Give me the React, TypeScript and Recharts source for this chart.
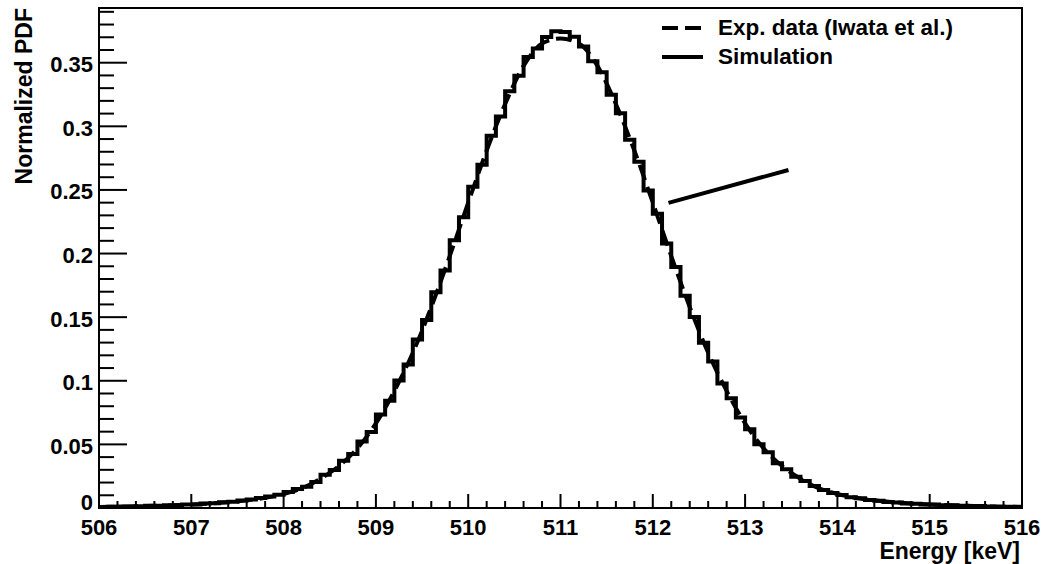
import { ComposedChart, Line, XAxis, YAxis, Legend, ReferenceArea, ReferenceLine } from 'recharts'

const FONT = '"Liberation Sans", Arial, Helvetica, sans-serif'

// simulated spectrum, 0.1 keV bins starting at 506 keV
const SIM_BIN_START = 506
const SIM_BIN_WIDTH = 0.1
const SIM_PDF = [
  0.0008, 0.001, 0.0012, 0.0011, 0.0013, 0.0017, 0.0016, 0.0021, 0.0022, 0.0027,
  0.0028, 0.0035, 0.0037, 0.0045, 0.005, 0.0058, 0.0066, 0.0078, 0.009, 0.0105,
  0.0125, 0.015, 0.0168, 0.0205, 0.0262, 0.0298, 0.0372, 0.0425, 0.0522, 0.0598,
  0.0735, 0.0843, 0.1002, 0.1128, 0.1325, 0.1478, 0.1695, 0.1866, 0.2105, 0.2285,
  0.2525, 0.2698, 0.2925, 0.3078, 0.3275, 0.3398, 0.3545, 0.3612, 0.3702, 0.3748,
  0.3742, 0.3705, 0.3628, 0.3512, 0.3425, 0.3248, 0.3102, 0.2895, 0.2722, 0.2495,
  0.2312, 0.2078, 0.1895, 0.1668, 0.1502, 0.1298, 0.1152, 0.0978, 0.0862, 0.0712,
  0.0618, 0.0502, 0.0438, 0.0352, 0.0305, 0.0246, 0.0212, 0.0172, 0.0141, 0.0118,
  0.0102, 0.0084, 0.0076, 0.0062, 0.0057, 0.0048, 0.0044, 0.0036, 0.0034, 0.0028,
  0.0027, 0.0022, 0.0021, 0.0017, 0.0016, 0.0015, 0.0012, 0.001, 0.001, 0.0009,
]

// Iwata et al. measurement, sampled every 0.2 keV from 506 keV
const EXP_START = 506
const EXP_STEP = 0.2
const EXP_PDF = [
  0.0008, 0.001, 0.0013, 0.0017, 0.0021, 0.0027, 0.0035, 0.0046, 0.006, 0.008,
  0.011, 0.0155, 0.023, 0.033, 0.047, 0.0665, 0.092, 0.122, 0.158, 0.198,
  0.24, 0.281, 0.3175, 0.3475, 0.365, 0.369, 0.365, 0.3475, 0.3175, 0.281,
  0.24, 0.198, 0.158, 0.122, 0.092, 0.0665, 0.047, 0.033, 0.023, 0.0155,
  0.011, 0.008, 0.006, 0.0046, 0.0035, 0.0027, 0.0021, 0.0017, 0.0013, 0.001,
  0.0008,
]

const X_LABELS = [506, 507, 508, 509, 510, 511, 512, 513, 514, 515, 516]
const X_MINOR_DIV = 5
const Y_LABELS = [0, 0.05, 0.1, 0.15, 0.2, 0.25, 0.3, 0.35]
const Y_MINOR_DIV = 5
const Y_MAX = 0.393

// the stray pointer line drawn next to the right flank
const POINTER = [
  { x: 512.17, y: 0.2398 },
  { x: 513.47, y: 0.2657 },
]

const simData = [
  ...SIM_PDF.map((v, i) => ({ energy: SIM_BIN_START + i * SIM_BIN_WIDTH, pdf: v })),
  { energy: SIM_BIN_START + SIM_PDF.length * SIM_BIN_WIDTH, pdf: SIM_PDF[SIM_PDF.length - 1] },
]
const expData = EXP_PDF.map((v, i) => ({ energy: EXP_START + i * EXP_STEP, pdf: v }))

const xTicks: number[] = []
for (let i = 0; i < X_LABELS.length - 1; i++) {
  for (let k = 0; k < X_MINOR_DIV; k++) {
    xTicks.push(X_LABELS[i] + ((X_LABELS[i + 1] - X_LABELS[i]) * k) / X_MINOR_DIV)
  }
}
xTicks.push(X_LABELS[X_LABELS.length - 1])

const yStep = (Y_LABELS[1] - Y_LABELS[0]) / Y_MINOR_DIV
const yTicks: number[] = []
for (let v = 0; v <= Y_MAX + 1e-9; v += yStep) yTicks.push(Math.round(v * 1000) / 1000)

const isMajorX = (v: number) => X_LABELS.some((l) => Math.abs(l - v) < 1e-6)
const isMajorY = (v: number) => Y_LABELS.some((l) => Math.abs(l - v) < 1e-6)

const labelStyle = { fontFamily: FONT, fontWeight: 700, fontSize: 22, fill: '#000' }

function XTick({ x, y, payload }: any) {
  const v = payload.value
  const major = isMajorX(v)
  return (
    <g>
      <line x1={x} x2={x} y1={y} y2={y - (major ? 14 : 7)} stroke="#000" strokeWidth={2} />
      {major && (
        <text x={x} y={y + 19} textAnchor="middle" dominantBaseline="central" style={labelStyle}>
          {Math.round(v)}
        </text>
      )}
    </g>
  )
}

function YTick({ x, y, payload }: any) {
  const v = payload.value
  const major = isMajorY(v)
  // the zero label sits a little higher so it clears the x labels
  const dy = v === 0 ? -6 : 2
  return (
    <g>
      <line x1={x} x2={x + (major ? 28 : 15)} y1={y} y2={y} stroke="#000" strokeWidth={2} />
      {major && (
        <text x={x - 6} y={y + dy} textAnchor="end" dominantBaseline="central" style={labelStyle}>
          {String(Number(v.toFixed(2)))}
        </text>
      )}
    </g>
  )
}

function YTitle({ viewBox }: any) {
  return (
    <text transform={`translate(${viewBox.x + 24}, ${viewBox.y}) rotate(-90)`} textAnchor="end"
      dominantBaseline="central" style={{ fontFamily: FONT, fontWeight: 700, fontSize: 23, fill: '#000' }}>
      Normalized PDF
    </text>
  )
}

function XTitle({ viewBox }: any) {
  return (
    <text x={viewBox.x + viewBox.width - 2} y={viewBox.y + 43} textAnchor="end" dominantBaseline="central"
      style={{ fontFamily: FONT, fontWeight: 700, fontSize: 23, fill: '#000' }}>
      Energy [keV]
    </text>
  )
}

function LegendBox() {
  const row = { display: 'flex', alignItems: 'center', height: 29 }
  const txt = { fontFamily: FONT, fontWeight: 700, fontSize: 22.5, color: '#000', whiteSpace: 'nowrap' as const }
  return (
    <div>
      <div style={row}>
        <svg width={56} height={10}>
          <line x1={0} x2={41} y1={5} y2={5} stroke="#000" strokeWidth={4} strokeDasharray="16 7" />
        </svg>
        <span style={txt}>Exp. data (Iwata et al.)</span>
      </div>
      <div style={row}>
        <svg width={56} height={10}>
          <line x1={0} x2={41} y1={5} y2={5} stroke="#000" strokeWidth={4} />
        </svg>
        <span style={txt}>Simulation</span>
      </div>
    </div>
  )
}

export default function App() {
  return (
    <div style={{ position: 'absolute', left: 0, top: 0, width: 1045, height: 564, background: '#fff' }}>
      <ComposedChart width={1045} height={564} margin={{ top: 8, right: 23, bottom: 0, left: 0 }}>
        <XAxis type="number" dataKey="energy" domain={[506, 516]} ticks={xTicks} interval={0}
          allowDataOverflow axisLine={false} tickLine={false} tickSize={0} tickMargin={0}
          height={56} tick={<XTick />} label={<XTitle />} />
        <YAxis type="number" dataKey="pdf" domain={[0, Y_MAX]} ticks={yTicks} interval={0}
          allowDataOverflow axisLine={false} tickLine={false} tickSize={0} tickMargin={0}
          width={99} tick={<YTick />} label={<YTitle />} />
        <Line data={simData} dataKey="pdf" type="stepAfter" stroke="#000" strokeWidth={4}
          dot={false} isAnimationActive={false} />
        <Line data={expData} dataKey="pdf" type="monotone" stroke="#000" strokeWidth={4}
          strokeDasharray="16 7" dot={false} isAnimationActive={false} />
        <ReferenceLine segment={POINTER} stroke="#000" strokeWidth={4} />
        <ReferenceArea x1={506} x2={516} y1={0} y2={Y_MAX} fill="none" stroke="#000" strokeWidth={2} />
        <Legend layout="horizontal" verticalAlign="middle" align="center"
          wrapperStyle={{ top: 13.5, left: 662, width: 360 }} content={<LegendBox />} />
      </ComposedChart>
    </div>
  )
}
